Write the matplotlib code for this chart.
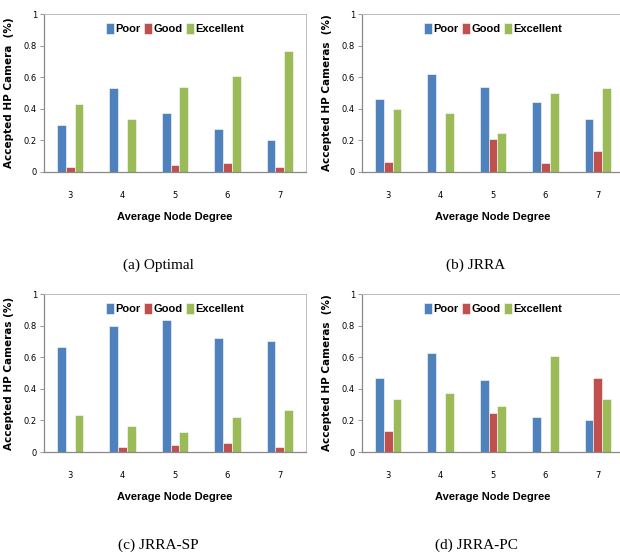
import matplotlib.pyplot as plt
import numpy as np

# data
degrees = ["3", "4", "5", "6", "7"]
series = ["Poor", "Good", "Excellent"]
colors = ["#4F81BD", "#C0504D", "#9BBB59"]

optimal_poor = [0.30, 0.533, 0.375, 0.275, 0.20]
optimal_good = [0.033, 0.0, 0.042, 0.055, 0.033]
optimal_exc = [0.433, 0.333, 0.54, 0.61, 0.765]

jrra_poor = [0.465, 0.623, 0.54, 0.443, 0.333]
jrra_good = [0.065, 0.0, 0.206, 0.055, 0.133]
jrra_exc = [0.40, 0.373, 0.248, 0.50, 0.533]

sp_poor = [0.667, 0.80, 0.833, 0.722, 0.70]
sp_good = [0.0, 0.033, 0.042, 0.055, 0.033]
sp_exc = [0.233, 0.167, 0.125, 0.222, 0.267]

pc_poor = [0.467, 0.625, 0.458, 0.222, 0.20]
pc_good = [0.133, 0.0, 0.25, 0.0, 0.467]
pc_exc = [0.333, 0.375, 0.29, 0.61, 0.333]

yticks = [0, 0.2, 0.4, 0.6, 0.8, 1]
ytick_labels = ["0", "0.2", "0.4", "0.6", "0.8", "1"]

panels = [
    ("(a) Optimal", "Accepted HP Camera  (%)", [optimal_poor, optimal_good, optimal_exc], (44, 14)),
    ("(b) JRRA", "Accepted HP Cameras  (%)", [jrra_poor, jrra_good, jrra_exc], (362, 14)),
    ("(c) JRRA-SP", "Accepted HP Cameras (%)", [sp_poor, sp_good, sp_exc], (44, 294)),
    ("(d) JRRA-PC", "Accepted HP Cameras  (%)", [pc_poor, pc_good, pc_exc], (362, 294)),
]

narrow = ["Liberation Sans Narrow", "Liberation Sans", "DejaVu Sans"]

W, H = 620, 555
fig = plt.figure(figsize=(W / 100, H / 100), dpi=100)

aw, ah = 262, 158
x = np.arange(len(degrees))
bw = 0.167

for caption, ylabel, vals, (left, top) in panels:
    ax = fig.add_axes([left / W, 1 - (top + ah) / H, aw / W, ah / H])
    for i, (name, v) in enumerate(zip(series, vals)):
        ax.bar(x + (i - 1) * bw, v, width=bw, color=colors[i], label=name,
               edgecolor="white", linewidth=0.4)
    ax.set_xlim(-0.5, 4.5)
    ax.set_ylim(0, 1)
    ax.set_yticks(yticks)
    ax.set_yticklabels(ytick_labels)
    ax.set_xticks(x)
    ax.set_xticklabels(degrees)
    ax.tick_params(axis="y", labelsize=6, length=3, width=0.6, pad=2, color="#888888")
    ax.tick_params(axis="x", labelsize=6, length=0, pad=14)
    for s in ["top", "right"]:
        ax.spines[s].set_color("#bbbbbb")
        ax.spines[s].set_linewidth(0.7)
    for s in ["left", "bottom"]:
        ax.spines[s].set_color("#888888")
        ax.spines[s].set_linewidth(0.9)
    ax.set_ylabel(ylabel, fontsize=7.5, fontweight="bold")
    ax.yaxis.set_label_coords(-0.115, 0.5)
    ax.set_xlabel("Average Node Degree", fontsize=8, fontweight="bold", family=narrow)
    ax.xaxis.set_label_coords(0.5, -0.255)
    ax.legend(loc="upper center", bbox_to_anchor=(0.5, 1.005), ncol=3, frameon=False,
              handlelength=0.7, handleheight=1.1, handletextpad=0.15,
              columnspacing=0.3, prop={"weight": "bold", "size": 8, "family": narrow})
    fig.text((left + 114) / W, 1 - (top + 251) / H, caption, ha="center", va="center",
             fontsize=11, family="Liberation Serif")

fig.savefig("out.png", dpi=100)
